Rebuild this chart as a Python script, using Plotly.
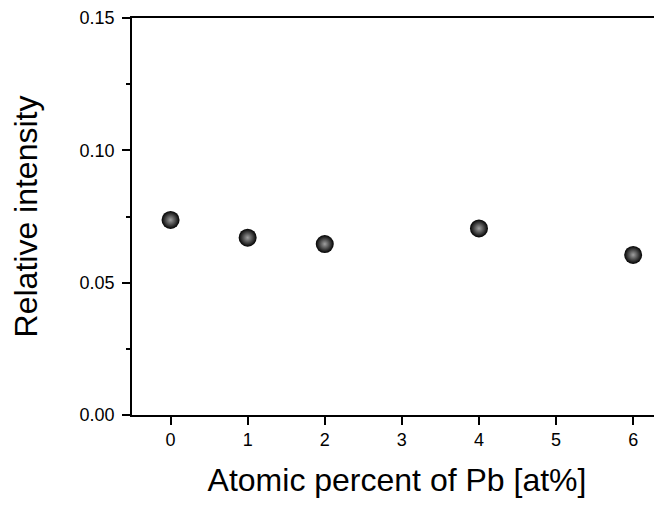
import plotly.graph_objects as go

pb_at_percent = [0, 1, 2, 4, 6]
relative_intensity = [0.0737, 0.0670, 0.0646, 0.0705, 0.0605]

x_tick_vals = [0, 1, 2, 3, 4, 5, 6]
y_tick_vals = [0.00, 0.05, 0.10, 0.15]
y_tick_text = ["0.00", "0.05", "0.10", "0.15"]

font_family = "Liberation Sans, Arial, sans-serif"

fig = go.Figure()
fig.add_trace(go.Scatter(
    x=pb_at_percent,
    y=relative_intensity,
    mode="markers",
    marker=dict(
        size=18,
        color="#000000",
        line=dict(width=0),
        gradient=dict(type="radial", color="#a0a0a0"),
    ),
    showlegend=False,
))

fig.update_layout(
    width=662,
    height=506,
    margin=dict(l=124, r=8, t=10, b=99),
    paper_bgcolor="white",
    plot_bgcolor="white",
    font=dict(family=font_family, color="black"),
    xaxis=dict(
        range=[-0.5, 6.374],
        tickvals=x_tick_vals,
        ticks="outside",
        ticklen=8,
        tickwidth=1.5,
        tickcolor="black",
        showline=True,
        linecolor="black",
        linewidth=1.5,
        mirror=True,
        showgrid=False,
        zeroline=False,
        automargin=False,
        tickfont=dict(size=18),
        title=dict(text="Atomic percent of Pb [at%]", font=dict(size=32), standoff=19),
    ),
    yaxis=dict(
        range=[0, 0.15],
        tickvals=y_tick_vals,
        ticktext=y_tick_text,
        ticks="outside",
        ticklen=8,
        tickwidth=1.5,
        tickcolor="black",
        ticklabelstandoff=4,
        minor=dict(ticks="outside", ticklen=4, tickwidth=1.5, tickcolor="black", dtick=0.025, tick0=0),
        showline=True,
        linecolor="black",
        linewidth=1.5,
        showgrid=False,
        zeroline=False,
        automargin=False,
        tickfont=dict(size=18),
        title=dict(text="Relative intensity", font=dict(size=32), standoff=33),
    ),
)

fig.write_html("out.html")
